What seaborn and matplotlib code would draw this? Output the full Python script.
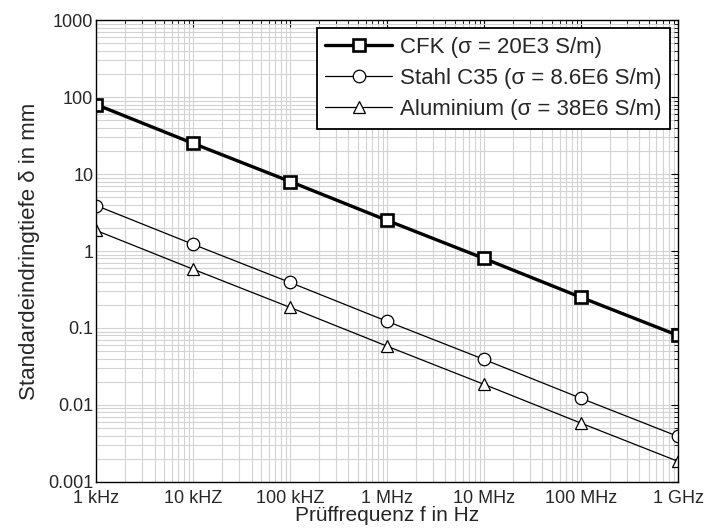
import matplotlib
matplotlib.use('Agg')
import matplotlib.pyplot as plt
import pandas as pd
import seaborn as sns

freq = [1e3, 1e4, 1e5, 1e6, 1e7, 1e8, 1e9]
freq_labels = ['1 kHz', '10 kHZ', '100 kHZ', '1 MHz', '10 MHz', '100 MHz', '1 GHz']
cfk = [80, 25, 8, 2.5, 0.8, 0.25, 0.08]
stahl = [3.9, 1.22, 0.39, 0.122, 0.039, 0.0122, 0.0039]
alu = [1.85, 0.58, 0.185, 0.058, 0.0185, 0.0058, 0.00185]
y_ticks = [0.001, 0.01, 0.1, 1, 10, 100, 1000]
y_labels = ['0.001', '0.01', '0.1', '1', '10', '100', '1000']

sns.set_style('white')
plt.rcParams['font.family'] = ['Liberation Sans', 'DejaVu Sans']

fig = plt.figure(figsize=(7.07, 5.29), dpi=100)
ax = fig.add_axes([0.136, 0.089, 0.823, 0.873])

series = [
    ('CFK (σ = 20E3 S/m)', cfk, 's', 2.4, 8),
    ('Stahl C35 (σ = 8.6E6 S/m)', stahl, 'o', 0.9, 9),
    ('Aluminium (σ = 38E6 S/m)', alu, '^', 0.9, 9),
]
for name, vals, mk, lw, ms in series:
    df = pd.DataFrame({'f': freq, 'd': vals})
    sns.lineplot(data=df, x='f', y='d', ax=ax, color='black', lw=lw,
                 marker=mk, markersize=ms, markerfacecolor='white',
                 markeredgecolor='black', markeredgewidth=1.9 if mk == 's' else 0.9,
                 label=name)

ax.set_xscale('log')
ax.set_yscale('log')
ax.set_xlim(1e3, 1e9)
ax.set_ylim(1e-3, 1e3)
ax.set_xticks(freq)
ax.set_xticklabels(freq_labels)
ax.set_yticks(y_ticks)
ax.set_yticklabels(y_labels)
ax.grid(True, which='both', color='#d3d3d3', lw=0.8)
ax.tick_params(which='both', direction='in', top=True, right=True, labelsize=13, color='black')
ax.tick_params(axis='x', pad=6)
ax.tick_params(axis='y', pad=2)
ax.tick_params(which='major', length=5)
ax.tick_params(which='minor', length=3)
for sp in ax.spines.values():
    sp.set_color('black')
    sp.set_linewidth(1.0)

ax.set_xlabel('Prüffrequenz f in Hz', fontsize=15, labelpad=-1)
ax.set_ylabel('Standardeindringtiefe δ in mm', fontsize=16, labelpad=6)

leg = ax.legend(loc='upper right', fontsize=16, frameon=True, fancybox=False,
                edgecolor='black', framealpha=1, handlelength=3.0,
                borderaxespad=0.35, borderpad=0.4, labelspacing=0.45, handletextpad=0.35)
leg.get_frame().set_linewidth(1.3)

fig.savefig('out.png', dpi=100)
